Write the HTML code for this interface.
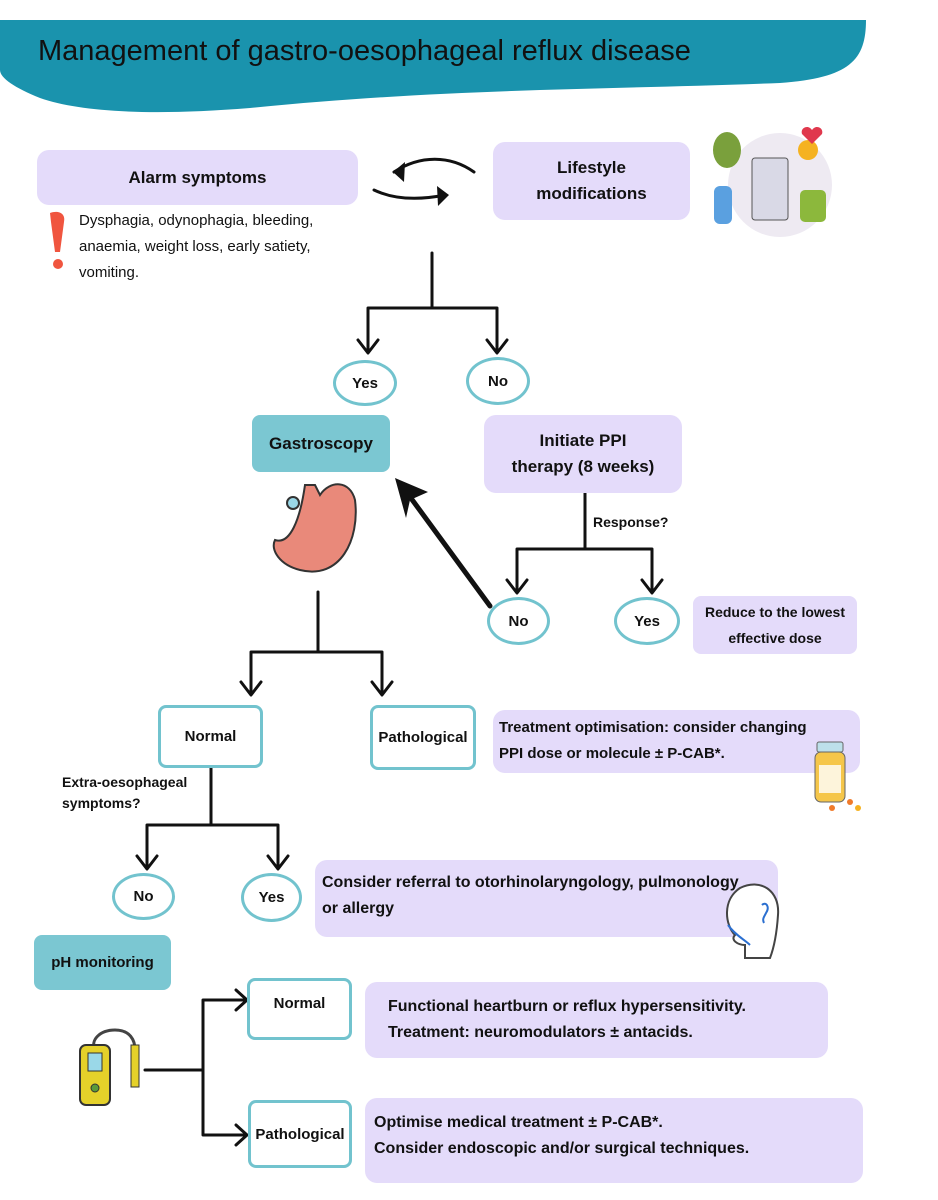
<!DOCTYPE html>
<html><head><meta charset="utf-8">
<style>
html,body{margin:0;padding:0;background:#fff;}
body{width:938px;height:1200px;position:relative;overflow:hidden;font-family:"Liberation Sans",Arial,sans-serif;color:#111;}
.a{position:absolute;box-sizing:border-box;}
.lav{background:#e4dbfa;border-radius:12px;}
.teal{background:#7bc7d2;border-radius:8px;}
.ol{border:3px solid #72c3ce;border-radius:8px;background:#fff;}
.c{display:flex;align-items:center;justify-content:center;text-align:center;font-weight:bold;}
.el{border:3px solid #72c3ce;border-radius:50%;background:#fff;}
.t{font-weight:bold;font-size:16px;line-height:26px;}
</style></head><body>
<svg class="a" style="left:0;top:0" width="938" height="1200">
<path d="M0,20 L866,20 C866,60 850,78 780,83 C600,90 450,88 250,108 C150,116 80,112 40,98 C15,88 0,78 0,70 Z" fill="#1a93ad"/>
<g stroke="#111" stroke-width="3" fill="none" stroke-linecap="round" stroke-linejoin="round">
<path d="M432,253 V308 M368,308 H497 M368,308 V352 M497,308 V352"/>
<path d="M358,340 L368,353 L378,340 M487,340 L497,353 L507,340"/>
<path d="M585,493 V549 M517,549 H652 M517,549 V592 M652,549 V592"/>
<path d="M507,580 L517,593 L527,580 M642,580 L652,593 L662,580"/>
<path d="M318,592 V652 M251,652 H382 M251,652 V694 M382,652 V694"/>
<path d="M241,682 L251,695 L261,682 M372,682 L382,695 L392,682"/>
<path d="M211,768 V825 M147,825 H278 M147,825 V868 M278,825 V868"/>
<path d="M137,856 L147,869 L157,856 M268,856 L278,869 L288,856"/>
<path d="M145,1070 H203 M203,1000 V1135 M203,1000 H246 M203,1135 H246"/>
<path d="M236,990 L247,1000 L236,1010 M236,1125 L247,1135 L236,1145"/>
<path d="M490,606 L405,490" stroke-width="5"/>
<path d="M394,172 C420,155 450,155 474,172 M374,190 C395,200 420,200 445,195"/>
</g>
<path d="M395,478 L428,492 L410,500 L406,518 Z" fill="#111"/>
<path d="M393,172 L405,162 L404,182 Z M449,195 L437,186 L438,206 Z" fill="#111"/>
<path d="M50,213 C58,210 66,213 64,222 L60,252 L55,252 L51,222 Z" fill="#f0553f"/>
<circle cx="58" cy="264" r="5" fill="#f0553f"/>
<circle cx="780" cy="185" r="52" fill="#eeeaf2"/>
<rect x="752" y="158" width="36" height="62" rx="3" fill="#d9d9e6" stroke="#555"/>
<circle cx="808" cy="150" r="10" fill="#f5b221"/>
<path d="M812,130 c-4,-6 -12,-2 -10,4 l10,10 l10,-10 c2,-6 -6,-10 -10,-4z" fill="#e0384d"/>
<ellipse cx="727" cy="150" rx="14" ry="18" fill="#7aa03c"/>
<rect x="714" y="186" width="18" height="38" rx="6" fill="#5aa0e0"/>
<rect x="800" y="190" width="26" height="32" rx="5" fill="#8cb83c"/>
<path d="M305,485 C300,520 290,545 275,540 C270,550 280,565 300,570 C340,580 360,540 355,500 C350,480 330,480 320,495 L315,485 Z" fill="#e9897a" stroke="#333" stroke-width="2"/>
<circle cx="293" cy="503" r="6" fill="#9ad8e8" stroke="#333" stroke-width="2"/>
<path d="M95,1050 C90,1040 100,1030 115,1030 C130,1030 135,1040 135,1050" stroke="#444" stroke-width="3" fill="none"/>
<rect x="80" y="1045" width="30" height="60" rx="6" fill="#e5d12a" stroke="#333" stroke-width="2"/>
<rect x="88" y="1053" width="14" height="18" fill="#9ad8e8" stroke="#333"/>
<circle cx="95" cy="1088" r="4" fill="#5a9a3a" stroke="#333"/>
<rect x="131" y="1045" width="8" height="42" fill="#e5d12a" stroke="#333"/>
</svg>
<div class="a" style="left:38px;top:35px;font-size:29px;color:#111;">Management of gastro-oesophageal reflux disease</div>
<div class="a lav c" style="left:37px;top:150px;width:321px;height:55px;font-size:17px;">Alarm symptoms</div>
<div class="a" style="left:79px;top:208px;font-size:15px;line-height:26px;">Dysphagia, odynophagia, bleeding,<br>anaemia, weight loss, early satiety,<br>vomiting.</div>
<div class="a lav c" style="left:493px;top:142px;width:197px;height:78px;font-size:17px;line-height:26px;">Lifestyle<br>modifications</div>
<div class="a el c" style="left:333px;top:360px;width:64px;height:46px;font-size:15px;">Yes</div>
<div class="a el c" style="left:466px;top:357px;width:64px;height:48px;font-size:15px;">No</div>
<div class="a teal c" style="left:252px;top:415px;width:138px;height:57px;font-size:17px;">Gastroscopy</div>
<div class="a lav c" style="left:484px;top:415px;width:198px;height:78px;font-size:17px;line-height:26px;">Initiate PPI<br>therapy (8 weeks)</div>
<div class="a t" style="left:593px;top:509px;font-size:14px;">Response?</div>
<div class="a el c" style="left:487px;top:597px;width:63px;height:48px;font-size:15px;">No</div>
<div class="a el c" style="left:614px;top:597px;width:66px;height:48px;font-size:15px;">Yes</div>
<div class="a lav c" style="left:693px;top:596px;width:164px;height:58px;font-size:14px;line-height:26px;border-radius:8px;">Reduce to the lowest<br>effective dose</div>
<div class="a ol c" style="left:158px;top:705px;width:105px;height:63px;font-size:15px;">Normal</div>
<div class="a ol c" style="left:370px;top:705px;width:106px;height:65px;font-size:15px;">Pathological</div>
<div class="a lav t" style="left:493px;top:710px;width:367px;height:63px;padding:5px 0 0 6px;font-size:15px;">Treatment optimisation: consider changing<br>PPI dose or molecule ± P-CAB*.</div>
<div class="a t" style="left:62px;top:772px;font-size:14px;line-height:21px;">Extra-oesophageal<br>symptoms?</div>
<div class="a el c" style="left:112px;top:873px;width:63px;height:47px;font-size:15px;">No</div>
<div class="a el c" style="left:241px;top:873px;width:61px;height:49px;font-size:15px;">Yes</div>
<div class="a lav t" style="left:315px;top:860px;width:463px;height:77px;padding:10px 0 0 7px;font-size:16px;">Consider referral to otorhinolaryngology, pulmonology<br>or allergy</div>
<div class="a teal c" style="left:34px;top:935px;width:137px;height:55px;font-size:15px;">pH monitoring</div>
<div class="a ol c" style="left:247px;top:978px;width:105px;height:62px;font-size:15px;align-items:flex-start;padding-top:14px;">Normal</div>
<div class="a lav t" style="left:365px;top:982px;width:463px;height:76px;padding:12px 0 0 23px;font-size:16px;">Functional heartburn or reflux hypersensitivity.<br>Treatment: neuromodulators ± antacids.</div>
<div class="a ol c" style="left:248px;top:1100px;width:104px;height:68px;font-size:15px;">Pathological</div>
<div class="a lav t" style="left:365px;top:1098px;width:498px;height:85px;padding:12px 0 0 9px;font-size:16px;">Optimise medical treatment ± P-CAB*.<br>Consider endoscopic and/or surgical techniques.</div>
<svg class="a" style="left:0;top:0" width="938" height="1200">
<rect x="815" y="752" width="30" height="50" rx="6" fill="#f5c64a" stroke="#666"/>
<rect x="817" y="742" width="26" height="10" rx="2" fill="#bde0ea" stroke="#666"/>
<rect x="819" y="765" width="22" height="28" fill="#fff" opacity="0.8"/>
<circle cx="832" cy="808" r="3" fill="#f07a2a"/><circle cx="850" cy="802" r="3" fill="#f07a2a"/><circle cx="858" cy="808" r="3" fill="#f5b221"/>
<path d="M735,935 C725,925 722,900 740,888 C760,878 780,890 778,915 C777,930 775,945 770,958 L745,958 L745,945 C738,945 730,940 735,935 Z" fill="#fff" stroke="#444" stroke-width="2"/>
<path d="M728,925 C735,935 745,940 750,945" stroke="#2b6fd0" stroke-width="2" fill="none"/>
<path d="M762,905 c4,-4 8,2 4,8 c-2,4 -4,6 -2,10" stroke="#2b6fd0" stroke-width="2" fill="none"/>
</svg>
</body></html>
